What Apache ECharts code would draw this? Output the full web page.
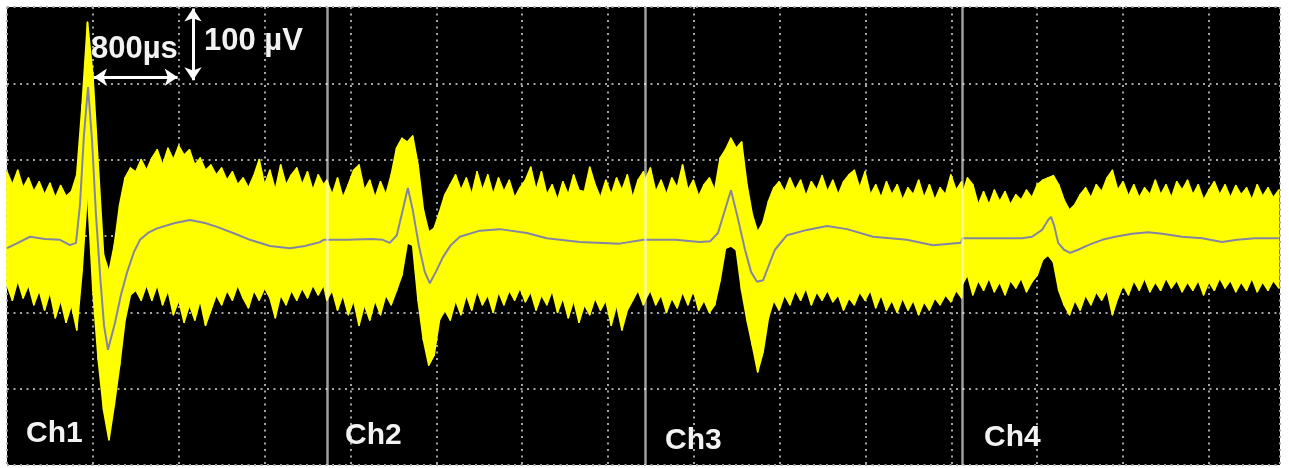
<!DOCTYPE html>
<html>
<head>
<meta charset="utf-8">
<script src="https://cdn.jsdelivr.net/npm/echarts@6/dist/echarts.min.js"></script>
<style>
  html, body { margin: 0; padding: 0; background: #fff; }
  #c { width: 1289px; height: 468px; }
</style>
</head>
<body>
<div id="c"></div>
<script>
// ---- time axis (µs) ----
const X_MAX = 11862;          // full sweep width in µs
const X_DIV = 800;            // 800 µs per division
const Y_MIN = -300, Y_MAX = 300, Y_DIV = 100; // µV
const PANEL_OFFSETS = [0, 2980, 5945, 8900];  // start of each channel window (µs)
const CH_LABELS = ['Ch1', 'Ch2', 'Ch3', 'Ch4'];

// envelope sample times inside one channel window (µs)
const ENV_T = [0,50,100,150,200,250,300,350,400,450,500,550,600,650,700,750,800,850,900,950,
  1000,1050,1100,1150,1200,1250,1300,1350,1400,1450,1500,1550,1600,1650,1700,1750,1800,1850,1900,1950,
  2000,2050,2100,2150,2200,2250,2300,2350,2400,2450,2500,2550,2600,2650,2700,2750,2800,2850,2900,2950];

// upper / lower edge of the overlaid raw traces (µV)
const ch1Hi = [84,67,86,63,76,58,71,54,69,50, 66,52,58,80,172,280,211,93,-25,-47,
  -12,41,76,89,84,100,86,102,113,93, 115,100,118,106,113,93,102,86,93,80,
  89,73,84,67,76,63,79,100,67,86, 60,93,67,80,89,67,84,60,80,67];
const ch1Lo = [-64,-84,-58,-81,-64,-90,-71,-97,-73,-107, -84,-113,-90,-123,-45,60,-71,-162,-228,-267,
  -221,-169,-110,-77,-71,-84,-64,-84,-64,-90, -71,-103,-84,-113,-90,-110,-84,-117,-97,-77,
  -90,-71,-84,-64,-81,-94,-71,-84,-68,-81, -107,-77,-90,-71,-84,-68,-81,-64,-77,-64];
const ch2Hi = [73,54,76,50,67,86,93,60,73,50, 71,54,80,115,128,123,131,93,34,5,
  10,31,54,67,80,60,76,54,84,60, 80,54,76,58,73,50,63,73,90,60,
  84,54,67,47,71,54,80,60,58,90, 67,50,73,54,76,60,80,50,73,84];
const ch2Lo = [-84,-71,-97,-77,-103,-84,-117,-90,-110,-84, -103,-77,-90,-71,-51,-9,-12,-84,-136,-169,
  -156,-110,-97,-110,-84,-103,-77,-97,-71,-90, -77,-100,-73,-90,-71,-84,-68,-86,-73,-97,
  -77,-90,-71,-100,-81,-107,-84,-113,-90,-103, -81,-97,-84,-117,-90,-123,-97,-84,-71,-90];
const ch3Hi = [73,89,58,73,54,76,63,93,60,73, 52,67,76,60,102,113,128,115,123,67,
  28,5,18,45,63,71,58,76,60,73, 52,71,60,79,58,73,54,71,80,86,
  63,84,54,67,50,71,54,67,47,63, 54,73,50,67,47,63,54,80,60,71];
const ch3Lo = [-84,-71,-90,-77,-100,-81,-94,-73,-90,-71, -97,-84,-100,-90,-58,-16,-13,-18,-71,-110,
  -143,-178,-152,-107,-84,-97,-77,-90,-71,-84, -68,-90,-73,-84,-71,-86,-77,-97,-81,-90,
  -73,-84,-71,-94,-77,-97,-84,-100,-81,-97, -84,-103,-86,-97,-81,-90,-77,-86,-71,-81];
const ch4Hi = [54,76,67,41,58,41,60,45,58,41, 54,47,60,50,67,73,76,79,67,47,
  34,41,54,63,50,67,58,76,86,60, 71,52,67,50,63,54,73,54,67,50,
  71,60,73,54,67,47,60,71,54,67, 50,66,54,63,47,67,52,63,50,60];
const ch4Lo = [-64,-51,-77,-58,-71,-55,-73,-60,-77,-58, -68,-55,-73,-60,-51,-31,-25,-34,-71,-90,
  -103,-84,-97,-77,-90,-73,-84,-71,-103,-81, -64,-77,-58,-71,-55,-73,-60,-71,-55,-68,
  -58,-73,-60,-71,-58,-77,-60,-71,-55,-68, -58,-73,-60,-71,-55,-73,-60,-71,-58,-68];

// averaged spike waveform (time µs, amplitude µV)
const ch1MeanT = [0,102,214,354,494,587,643,680,717,755,792,829,867,904,941,1006,1062,1118,1183,1239,1314,1398,1565,1705,1845,1957,2125,2264,2451,2637,2777,2917,2950];
const ch1MeanV = [-16,-9,-1,-4,-5,-12,-9,41,132,195,126,28,-51,-117,-149,-114,-77,-48,-21,-5,4,10,17,21,17,12,3,-5,-13,-16,-13,-8,-5];
const ch2MeanT = [0,186,419,522,587,652,708,755,801,857,913,960,1016,1081,1155,1239,1426,1612,1864,2050,2357,2730,2950];
const ch2MeanV = [-5,-5,-4,-5,-9,1,34,63,34,-12,-47,-62,-47,-28,-12,-1,7,9,4,-3,-8,-10,-5];
const ch3MeanT = [0,280,512,606,680,745,801,857,932,988,1044,1100,1155,1211,1323,1510,1696,1882,2125,2441,2684,2945];
const ch3MeanV = [-4,-5,-8,-7,4,34,60,28,-18,-47,-60,-58,-38,-18,1,8,13,9,-1,-5,-12,-9];
const ch4MeanT = [0,280,559,652,745,801,829,857,895,950,1006,1081,1174,1305,1426,1584,1733,1864,2050,2236,2423,2562,2730,2950];
const ch4MeanV = [-3,-3,-3,-1,8,21,25,14,-9,-18,-22,-18,-12,-5,-1,3,5,3,-1,-3,-8,-5,-3,-3];

// scale bars
const SCALE_T = [810, 1590];   // 800 µs bar
const SCALE_T_Y = 208;
const SCALE_V_T = 1733;        // 100 µV bar
const SCALE_V = [298, 204];

// ---- build series data ----
const channels = [
  {hi: ch1Hi, lo: ch1Lo, mt: ch1MeanT, mv: ch1MeanV},
  {hi: ch2Hi, lo: ch2Lo, mt: ch2MeanT, mv: ch2MeanV},
  {hi: ch3Hi, lo: ch3Lo, mt: ch3MeanT, mv: ch3MeanV},
  {hi: ch4Hi, lo: ch4Lo, mt: ch4MeanT, mv: ch4MeanV}
];
const envPts = [], meanData = [];
channels.forEach((c, k) => {
  const off = PANEL_OFFSETS[k];
  ENV_T.forEach((t, i) => envPts.push([off + t, c.hi[i], c.lo[i]]));
  c.mt.forEach((t, i) => meanData.push([off + t, c.mv[i]]));
});
// band segments: [t0, t1, hi0, hi1, lo0, lo1]
const bandData = [];
for (let i = 0; i < envPts.length - 1; i++) {
  const a = envPts[i], b = envPts[i + 1];
  bandData.push([a[0], b[0], a[1], b[1], a[2], b[2]]);
}

const gridLine = {show: true, lineStyle: {color: '#a4a4a4', width: 2, type: [2, 4.5]}};
const chart = echarts.init(document.getElementById('c'));
const textStyle = (size) => ({fill: '#f2f2f2', font: 'bold ' + size + 'px "Liberation Sans", Arial, sans-serif', verticalAlign: 'top'});

chart.setOption({
  animation: false,
  backgroundColor: '#ffffff',
  grid: {left: 7, right: 9, top: 7, bottom: 3, show: true, backgroundColor: '#000', borderWidth: 0},
  xAxis: {type: 'value', min: 0, max: X_MAX, interval: X_DIV,
    axisLine: {show: false}, axisTick: {show: false}, axisLabel: {show: false}, splitLine: gridLine},
  yAxis: {type: 'value', min: Y_MIN, max: Y_MAX, interval: Y_DIV,
    axisLine: {show: false}, axisTick: {show: false}, axisLabel: {show: false}, splitLine: gridLine},
  series: [
    {type: 'custom', name: 'band', data: bandData, silent: true, z: 2,
      encode: {x: [0, 1], y: [2, 3, 4, 5]},
      renderItem: function (params, api) {
        const p1 = api.coord([api.value(0), api.value(2)]);
        const p2 = api.coord([api.value(1), api.value(3)]);
        const p3 = api.coord([api.value(1), api.value(5)]);
        const p4 = api.coord([api.value(0), api.value(4)]);
        return {type: 'polygon', shape: {points: [p1, p2, p3, p4]},
          style: {fill: '#ffff00', stroke: '#ffff00', lineWidth: 1.6, lineJoin: 'round'}};
      }},
    {type: 'line', name: 'mean', data: meanData, symbol: 'none',
      lineStyle: {width: 2, color: '#8484a4'}, silent: true, z: 3},
    {type: 'scatter', name: 'sep', data: [], silent: true, z: 4,
      markLine: {silent: true, symbol: 'none', animation: false, label: {show: false},
        lineStyle: {color: 'rgba(255,255,255,0.62)', width: 2.5, type: 'solid'},
        data: PANEL_OFFSETS.slice(1).map(v => ({xAxis: v}))}},
    {type: 'scatter', name: 'scale', data: [], silent: true, z: 5,
      markLine: {silent: true, symbol: ['arrow', 'arrow'], symbolSize: [13, 13], animation: false, label: {show: false},
        lineStyle: {color: '#ffffff', width: 3, type: 'solid'},
        data: [
          [{coord: [SCALE_T[0], SCALE_T_Y]}, {coord: [SCALE_T[1], SCALE_T_Y]}],
          [{coord: [SCALE_V_T, SCALE_V[0]]}, {coord: [SCALE_V_T, SCALE_V[1]]}]
        ]}}
  ],
  graphic: [
    {type: 'text', left: 91, top: 34, z: 10, style: Object.assign({text: '800µs'}, textStyle(31))},
    {type: 'text', left: 204, top: 26, z: 10, style: Object.assign({text: '100 µV'}, textStyle(31))},
    {type: 'text', left: 26, top: 419, z: 10, style: Object.assign({text: CH_LABELS[0]}, textStyle(30))},
    {type: 'text', left: 345, top: 421, z: 10, style: Object.assign({text: CH_LABELS[1]}, textStyle(30))},
    {type: 'text', left: 665, top: 426, z: 10, style: Object.assign({text: CH_LABELS[2]}, textStyle(30))},
    {type: 'text', left: 984, top: 423, z: 10, style: Object.assign({text: CH_LABELS[3]}, textStyle(30))}
  ]
});
</script>
</body>
</html>
